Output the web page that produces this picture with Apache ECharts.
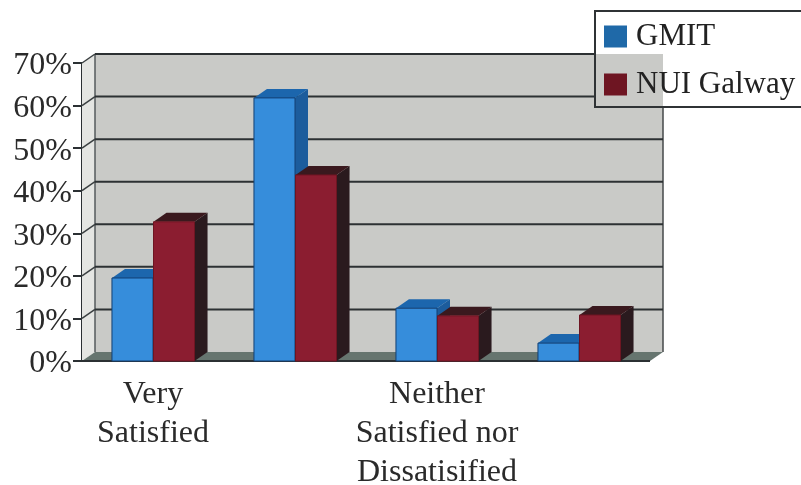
<!DOCTYPE html>
<html><head><meta charset="utf-8">
<style>html,body{margin:0;padding:0;background:#fff}#c{width:801px;height:485px;filter:blur(0.5px)}</style>
<script src="https://cdn.jsdelivr.net/npm/echarts@6/dist/echarts.min.js"></script>
</head><body><div id="c"></div>
<script>
var categories = ['Very\nSatisfied', ' ', 'Neither\nSatisfied nor\nDissatisified', '  '];
var gmit = [19.5, 61.8, 12.4, 4.2];
var nui = [32.7, 43.7, 10.6, 10.8];
var yTicks = [0, 10, 20, 30, 40, 50, 60, 70];

var DX = 13, DY = -9;
var FONT = '"Liberation Serif", serif';
var chart = echarts.init(document.getElementById('c'), null, {renderer: 'canvas'});

function poly(points, fill, stroke) {
  return {type: 'polygon', shape: {points: points}, style: {fill: fill, stroke: stroke || null, lineWidth: stroke ? 1 : 0}, silent: true};
}
function line(x1, y1, x2, y2, color, w) {
  return {type: 'line', shape: {x1: x1, y1: y1, x2: x2, y2: y2}, style: {stroke: color, lineWidth: w}, silent: true};
}
function wallItem(params, api) {
  var v = api.value(0);
  var cs = params.coordSys;
  var y = api.coord([0, v])[1];
  var x0 = cs.x, x1 = cs.x + cs.width, kids = [];
  if (v === 0) {
    var top = cs.y, bot = cs.y + cs.height;
    kids.push(poly([[x0, bot], [x0 + DX, bot + DY], [x0 + DX, top + DY], [x0, top]], '#e4e5e2'));
    kids.push(poly([[x0 + DX, bot + DY], [x1 + DX, bot + DY], [x1 + DX, top + DY], [x0 + DX, top + DY]], '#c9cac7'));
    kids.push(poly([[x0, bot], [x1, bot], [x1 + DX, bot + DY], [x0 + DX, bot + DY]], '#66756f'));
    kids.push(line(x0 + DX, bot + DY, x0 + DX, top + DY, '#555a5c', 1.5));
    kids.push(line(x1 + DX, bot + DY, x1 + DX, top + 44, '#44484a', 1.5));
    kids.push(line(x0, bot, x1, bot, '#2b3033', 2));
  } else {
    var end = v >= 60 ? 595 : x1 + DX;
    kids.push(line(x0 + DX, y + DY, end, y + DY, '#2c3133', 2));
    kids.push(line(x0, y, x0 + DX, y + DY, '#3a3f41', 1.5));
  }
  return {type: 'group', children: kids};
}
function barItem(side, front, topC, sideC, outline) {
  return function (params, api) {
    var idx = api.value(0), val = api.value(1);
    var p = api.coord([idx, val]), b = api.coord([idx, 0]);
    var w = api.size([1, 0])[0] * 0.289;
    var l = side < 0 ? p[0] - w : p[0] + 0.5, r = l + w;
    return {type: 'group', children: [
      poly([[r, p[1]], [r + DX, p[1] + DY], [r + DX, b[1] + DY], [r, b[1]]], sideC),
      poly([[l, p[1]], [l + DX, p[1] + DY], [r + DX, p[1] + DY], [r, p[1]]], topC),
      poly([[l, p[1]], [r, p[1]], [r, b[1]], [l, b[1]]], front, outline)
    ]};
  };
}

chart.setOption({
  animation: false,
  backgroundColor: '#fff',
  grid: {left: 82, top: 63, width: 568, height: 298, containLabel: false, outerBoundsMode: 'none'},
  legend: {
    data: ['GMIT', 'NUI Galway'], orient: 'vertical', left: 595, top: 11,
    padding: [10, 30, 7, 9], itemWidth: 23, itemHeight: 22, itemGap: 17,
    icon: 'rect', borderColor: '#2f3335', borderWidth: 2, backgroundColor: 'transparent',
    textStyle: {fontFamily: FONT, fontSize: 31, color: '#222', padding: [0, 0, 0, 4]}
  },
  xAxis: {
    type: 'category', data: categories,
    axisLine: {show: false}, axisTick: {show: false},
    axisLabel: {interval: 0, fontFamily: FONT, fontSize: 32, lineHeight: 39, color: '#2a2a2a', margin: 14, width: 220, overflow: 'none'}
  },
  yAxis: {
    type: 'value', min: 0, max: 70, interval: 10,
    axisLine: {show: true, lineStyle: {color: '#2b3033', width: 2}},
    axisTick: {show: true, length: 9, lineStyle: {color: '#2b3033', width: 2}},
    splitLine: {show: false},
    axisLabel: {
      formatter: '{t|{value}%}', margin: 10,
      rich: {t: {fontFamily: FONT, fontSize: 32, color: '#2a2a2a', padding: [6, 0, 0, 0]}}
    }
  },
  series: [
    {name: 'wall', type: 'custom', z: 1, renderItem: wallItem, data: yTicks.map(function (v) { return [v]; }), encode: {y: 0}, silent: true},
    {name: 'GMIT', type: 'custom', z: 2, itemStyle: {color: '#1f69a8'},
      renderItem: barItem(-1, '#368ddb', '#1c66ad', '#1c5c9c', '#123f73'),
      data: gmit.map(function (v, i) { return [i, v]; }), encode: {x: 0, y: 1}},
    {name: 'NUI Galway', type: 'custom', z: 3, itemStyle: {color: '#6e1522'},
      renderItem: barItem(1, '#8b1d30', '#3a191e', '#2a1a1e', '#6e1522'),
      data: nui.map(function (v, i) { return [i, v]; }), encode: {x: 0, y: 1}}
  ]
});
</script></body></html>
